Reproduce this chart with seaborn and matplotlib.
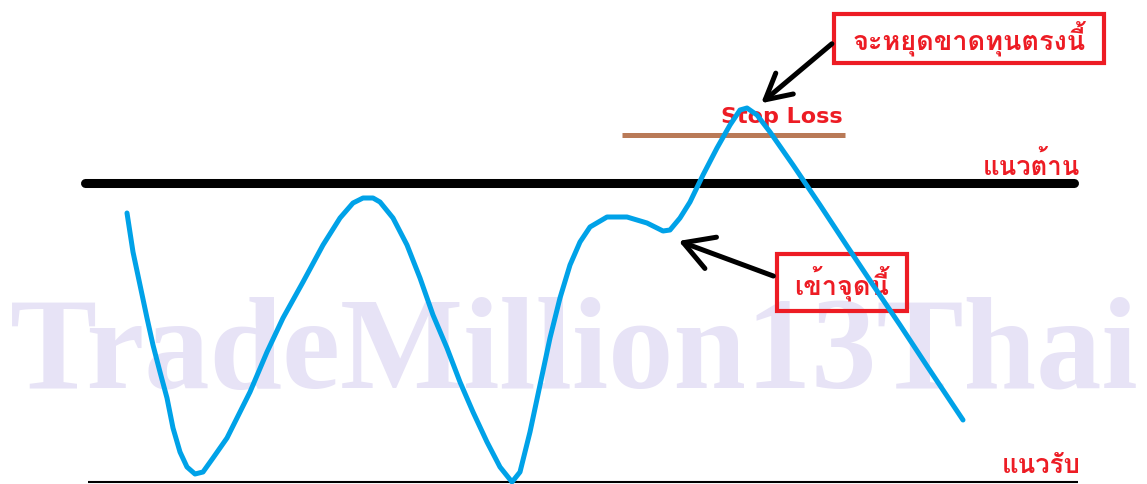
import matplotlib
matplotlib.use("Agg")
import matplotlib.pyplot as plt
import seaborn as sns
import pandas as pd
from matplotlib import font_manager as fm
from matplotlib.patches import Rectangle

# hand drawn price path, read in pixel space (y grows downward)
curve_x = [127, 133, 140, 147, 153, 160, 167, 173, 180, 187, 195, 203, 213, 227, 237, 250,
           267, 283, 303, 323, 340, 353, 363, 373, 380, 393, 407, 420, 433, 447, 460, 473,
           487, 500, 512, 520, 530, 540, 550, 560, 570, 580, 590, 607, 627, 647, 663, 670,
           680, 690, 703, 717, 730, 740, 747, 757, 770, 793, 820, 847, 873, 900, 927, 947, 963]
curve_y = [213, 252, 285, 318, 345, 372, 398, 428, 452, 467, 474, 472, 458, 438, 418, 392,
           352, 318, 282, 245, 218, 203, 198, 198, 202, 218, 245, 278, 315, 348, 382, 412,
           442, 467, 482, 472, 432, 385, 338, 298, 265, 242, 227, 217, 217, 223, 231, 230,
           218, 202, 175, 148, 125, 110, 108, 115, 132, 165, 205, 246, 285, 325, 366, 396, 420]

resist_y = 183
support_y = 482
stop_y = 135
resist_span = (85, 1074)
support_span = (88, 1078)
stop_span = (622, 845)

label_resist = "แนวต้าน"
label_support = "แนวรับ"
label_stop = "Stop Loss"
note_stop = "จะหยุดขาดทุนตรงนี้"
note_entry = "เข้าจุดนี้"
watermark = "TradeMillion13Thai"


def find_thai_font():
    try:
        from fontTools.ttLib import TTFont
    except Exception:
        return None
    for f in fm.fontManager.ttflist:
        try:
            tt = TTFont(f.fname, fontNumber=0, lazy=True)
            cmap = tt.getBestCmap()
            if cmap and 0x0E08 in cmap and 0x0E49 in cmap:
                return f.name
        except Exception:
            continue
    return None


sns.set_style("white")
thai = find_thai_font()
fams = [thai, "DejaVu Sans"] if thai else ["DejaVu Sans"]
plt.rcParams["font.family"] = fams

RED = "#ed1c24"
BLUE = "#00a2e8"
BROWN = "#b97a57"

fig = plt.figure(figsize=(11.47, 4.84), dpi=100)
ax = fig.add_axes([0, 0, 1, 1])

ax.text(10, 388, watermark, fontsize=94, fontweight="bold", color="#e7e3f6",
        family=["Liberation Serif", "DejaVu Serif"], ha="left", va="baseline", zorder=0)

ax.hlines(resist_y, *resist_span, color="black", lw=6.5, capstyle="round", zorder=2)
ax.hlines(support_y, *support_span, color="black", lw=1.5, zorder=2)
ax.hlines(stop_y, *stop_span, color=BROWN, lw=3.6, zorder=2)

df = pd.DataFrame({"x": curve_x, "y": curve_y})
sns.lineplot(data=df, x="x", y="y", sort=False, color=BLUE, lw=3.6, ax=ax, zorder=4)
ax.set_xlim(0, 1147)
ax.set_ylim(484, 0)
ax.axis("off")

ax.text(782, 123, label_stop, color=RED, fontsize=16, fontweight="bold",
        family="DejaVu Sans", ha="center", va="baseline", zorder=3)
ax.text(1031, 175, label_resist, color=RED, fontsize=18.5, fontweight="bold",
        ha="center", va="baseline", zorder=3)
ax.text(1041, 473, label_support, color=RED, fontsize=18.5, fontweight="bold",
        ha="center", va="baseline", zorder=3)

# note boxes
ax.add_patch(Rectangle((834, 14), 270, 49, fc="white", ec=RED, lw=3, zorder=5))
ax.text(969, 39, note_stop, color=RED, fontsize=19.5, fontweight="bold",
        ha="center", va="center", zorder=5)
ax.add_patch(Rectangle((777, 254), 130, 57, fc="none", ec=RED, lw=3, zorder=3))
ax.text(842, 284, note_entry, color=RED, fontsize=19.5, fontweight="bold",
        ha="center", va="center", zorder=3)

ax.annotate("", xy=(759, 105), xytext=(834, 42), zorder=6,
            arrowprops=dict(arrowstyle="->,head_length=1.3,head_width=0.7",
                            color="black", lw=3.6, mutation_scale=14))
ax.annotate("", xy=(676, 240), xytext=(776, 277), zorder=6,
            arrowprops=dict(arrowstyle="->,head_length=1.4,head_width=0.8",
                            color="black", lw=3.6, mutation_scale=15))

fig.savefig("out.png", dpi=100)
